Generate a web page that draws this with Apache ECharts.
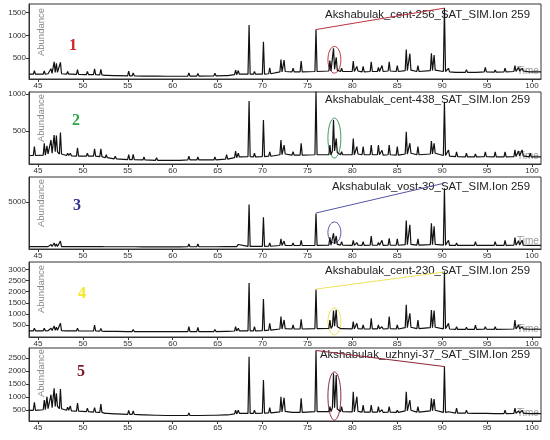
<!DOCTYPE html>
<html>
<head>
<meta charset="utf-8">
<script src="https://cdn.jsdelivr.net/npm/echarts@6.0.0/dist/echarts.min.js"></script>
<style>
  html, body { margin: 0; padding: 0; background: #fff; }
  #chart { width: 550px; height: 440px; }
</style>
</head>
<body>
<div id="chart"></div>
<script>
// retention times of the peaks (min), shared by the five samples
var rt = [
  44.6, 45.7, 46.0, 46.45, 46.8, 47.05, 47.5, 48.3, 48.6, 49.4,
  50.5, 51.3, 52.0, 52.6, 53.6, 55.1, 55.6, 56.8, 58.2, 59.4,
  60.7, 61.8, 62.8, 64.7, 66.0, 67.0, 67.3, 68.5, 69.1, 70.1,
  70.8, 72.05, 72.4, 73.4, 74.3, 75.95, 77.5, 77.9, 78.2, 78.8,
  80.1, 80.5, 81.2, 82.1, 82.9, 83.3, 84.1, 85.0, 86.0, 86.4,
  87.3, 88.8, 89.1, 90.25, 90.7, 91.6, 92.7, 93.7, 94.8, 95.9,
  97.0, 98.1, 98.5, 98.9, 99.8
];

// sample 1: cent-256  (apex / foot abundance)
var h1 = [
  230, 220, 180, 270, 420, 390, 410, 210, 170, 250,
  210, 270, 255, 150, 140, 220, 180, 150, 125, 120,
  120, 180, 165, 170, 160, 240, 230, 1230, 210, 860,
  290, 470, 460, 280, 440, 1130, 450, 720, 520, 280,
  440, 320, 320, 420, 300, 340, 420, 340, 690, 600,
  340, 610, 570, 1600, 280, 220, 250, 220, 300, 240,
  280, 340, 300, 280, 230
];
var b1 = [
  150, 150, 160, 170, 190, 190, 160, 150, 150, 145,
  140, 140, 135, 125, 120, 115, 115, 110, 110, 105,
  105, 110, 110, 115, 120, 140, 150, 150, 150, 150,
  160, 200, 210, 200, 200, 210, 220, 260, 240, 210,
  210, 220, 200, 210, 210, 210, 220, 210, 230, 240,
  210, 230, 240, 210, 200, 190, 190, 190, 200, 195,
  200, 210, 220, 220, 200
];

// sample 2: cent-438
var h2 = [
  290, 335, 300, 380, 445, 440, 480, 200, 200, 275,
  200, 260, 260, 180, 160, 180, 185, 150, 140, 130,
  125, 160, 150, 150, 180, 230, 200, 905, 200, 650,
  220, 380, 310, 220, 335, 1040, 310, 650, 400, 220,
  400, 290, 290, 310, 310, 240, 310, 290, 490, 335,
  290, 365, 335, 895, 245, 220, 200, 190, 220, 220,
  220, 245, 230, 245, 200
];
var b2 = [
  170, 175, 190, 200, 220, 220, 190, 170, 165, 160,
  160, 160, 155, 140, 125, 115, 115, 110, 105, 105,
  105, 110, 110, 110, 120, 140, 150, 155, 150, 155,
  160, 180, 190, 175, 175, 180, 180, 230, 210, 180,
  180, 190, 180, 180, 180, 175, 180, 175, 190, 200,
  180, 190, 200, 170, 160, 155, 150, 150, 155, 150,
  150, 155, 165, 165, 150
];

// sample 3: vost-39
var h3 = [
  200, 334, 250, 395, 550, 450, 765, 200, 180, 240,
  200, 334, 270, 180, 170, 240, 240, 170, 160, 160,
  160, 457, 457, 240, 220, 334, 395, 4750, 395, 3370,
  550, 1010, 765, 550, 855, 3770, 1160, 1620, 1320, 700,
  855, 600, 700, 1320, 600, 855, 1070, 1010, 3000, 2540,
  1010, 2700, 2390, 6530, 855, 550, 500, 700, 500, 700,
  855, 1160, 800, 855, 450
];
var b3 = [
  150, 150, 160, 170, 180, 180, 160, 150, 150, 150,
  150, 150, 150, 145, 145, 145, 145, 140, 140, 140,
  140, 145, 145, 145, 150, 170, 180, 180, 180, 190,
  200, 280, 300, 280, 280, 300, 320, 450, 400, 320,
  300, 320, 300, 320, 310, 300, 320, 310, 380, 400,
  320, 380, 400, 320, 300, 290, 290, 290, 300, 290,
  300, 310, 330, 330, 300
];

// sample 4: cent-230
var h4 = [
  350, 350, 300, 350, 455, 400, 576, 260, 250, 350,
  260, 500, 350, 230, 220, 273, 300, 220, 215, 210,
  210, 425, 395, 300, 260, 425, 350, 2395, 425, 1668,
  576, 878, 727, 500, 757, 2100, 727, 1150, 1180, 425,
  650, 576, 500, 800, 500, 425, 878, 500, 1410, 1030,
  727, 1180, 1150, 2925, 575, 425, 400, 500, 420, 425,
  350, 727, 500, 425, 350
];
var b4 = [
  240, 240, 245, 250, 260, 260, 245, 240, 235, 235,
  230, 230, 225, 215, 210, 205, 205, 200, 200, 200,
  200, 205, 205, 205, 210, 230, 240, 240, 240, 250,
  270, 320, 340, 320, 320, 340, 350, 450, 420, 340,
  330, 340, 320, 330, 330, 320, 340, 320, 380, 400,
  340, 380, 400, 330, 320, 300, 300, 300, 310, 300,
  310, 320, 330, 330, 310
];

// sample 5: uzhnyi-37
var h5 = [
  808, 896, 1023, 1100, 1350, 1150, 1320, 620, 670, 780,
  580, 600, 740, 400, 380, 500, 480, 320, 300, 290,
  290, 400, 320, 380, 380, 500, 500, 2560, 500, 1665,
  600, 1023, 985, 445, 960, 2800, 640, 1920, 1855, 640,
  1215, 1023, 700, 700, 640, 520, 640, 500, 1215, 895,
  640, 960, 930, 2177, 445, 580, 500, 450, 445, 420,
  500, 580, 480, 500, 400
];
var b5 = [
  500, 520, 560, 600, 650, 650, 560, 500, 480, 470,
  450, 430, 420, 380, 360, 340, 340, 320, 310, 300,
  300, 300, 300, 310, 320, 360, 380, 380, 380, 390,
  400, 440, 460, 420, 420, 450, 450, 600, 550, 450,
  440, 460, 430, 430, 430, 420, 430, 420, 480, 500,
  430, 480, 500, 420, 400, 390, 390, 380, 380, 370,
  370, 380, 390, 390, 370
];

var sampleNames = [
  "Akshabulak_cent-256_SAT_SIM.Ion 259",
  "Akshabulak_cent-438_SAT_SIM.Ion 259",
  "Akshabulak_vost-39_SAT_SIM.Ion 259",
  "Akshabulak_cent-230_SAT_SIM.Ion 259",
  "Akshabulak_uzhnyi-37_SAT_SIM.Ion 259"
];
var sampleNums = ["1", "2", "3", "4", "5"];
var xTicks = [45, 50, 55, 60, 65, 70, 75, 80, 85, 90, 95, 100];
var yTicks = [
  [500, 1000, 1500],
  [500, 1000],
  [5000],
  [500, 1000, 1500, 2000, 2500, 3000],
  [500, 1000, 1500, 2000, 2500]
];
// link line between the 76 and 90 min peaks  [t0, v0, t1, v1]
var links = [
  [75.95, 1130, 90.25, 1600],
  null,
  [75.95, 3830, 90.25, 7090],
  [75.95, 2120, 90.25, 2890],
  [75.95, 2800, 90.3, 2180]
];
// ellipse round the 78 min cluster
var ringTime = 78.0;
var ringLo = [175, 135, 550, 60, 120];
var ringHi = [760, 675, 2850, 1270, 1975];

var highs = [h1, h2, h3, h4, h5];
var bases = [b1, b2, b3, b4, b5];

// layout
var tops = [4, 92, 177, 262, 348];
var heights = [75, 72, 72, 75, 73];
var yMin = [45, 55, -100, -40, 88];
var yMax = [1690, 1027, 7760, 3340, 2896];
var numColors = ["#d2232a", "#2ea84a", "#2e3192", "#f5e61e", "#7a1a25"];
var markColors = ["#b8333f", "#3f9a5f", "#5555a5", "#ece25a", "#8a2334"];
var numPos = [[73, 46], [76, 121], [77, 206], [82, 294], [81, 372]];
var titleY = [15, 100, 187, 271, 355];
var abundY = [32, 118, 203, 289, 373];

function trace(h, b) {
  var pts = [[44, b[0]]];
  rt.forEach(function(t, i) {
    pts.push([t - 0.12, b[i]], [t, h[i]], [t + 0.12, b[i]]);
  });
  pts.push([101, b[b.length - 1]]);
  return pts;
}

var chart = echarts.init(document.getElementById("chart"));
var font = "Liberation Sans";
var grids = [], xAxes = [], yAxes = [], series = [];
var plain = function(v) { return String(v); };

for (var i = 0; i < 5; i++) {
  grids.push({
    left: 29, right: 9, top: tops[i], height: heights[i],
    show: true, borderColor: "#333", borderWidth: 1
  });
  xAxes.push({
    type: "value", gridIndex: i, min: 44, max: 101,
    axisLine: { show: true, onZero: false, lineStyle: { color: "#333" } },
    axisTick: { show: true, length: 3, customValues: xTicks, lineStyle: { color: "#333" } },
    axisLabel: { customValues: xTicks, fontSize: 8, color: "#333", margin: 3, fontFamily: font, formatter: plain },
    splitLine: { show: false }
  });
  yAxes.push({
    type: "value", gridIndex: i, min: yMin[i], max: yMax[i],
    axisLine: { show: true, onZero: false, lineStyle: { color: "#333" } },
    axisTick: { show: true, length: 3, customValues: yTicks[i], lineStyle: { color: "#333" } },
    axisLabel: { customValues: yTicks[i], fontSize: 8, color: "#333", margin: 3, fontFamily: font, formatter: plain },
    splitLine: { show: false }
  });
  var s = {
    type: "line", xAxisIndex: i, yAxisIndex: i,
    data: trace(highs[i], bases[i]),
    symbol: "none", showSymbol: false,
    lineStyle: { color: "#111", width: 1.2 },
    silent: true
  };
  if (links[i]) {
    var l = links[i];
    s.markLine = {
      silent: true, symbol: ["none", "none"],
      lineStyle: { color: markColors[i], type: "solid", width: 1 },
      label: { show: false },
      data: [[{ coord: [l[0], l[1]] }, { coord: [l[2], l[3]] }]]
    };
  }
  series.push(s);
}

chart.setOption({
  animation: false,
  grid: grids,
  xAxis: xAxes,
  yAxis: yAxes,
  series: series
});

// texts and rings
var elements = [];
for (var j = 0; j < 5; j++) {
  elements.push({
    type: "text", x: 530, y: titleY[j],
    style: { text: sampleNames[j], align: "right", verticalAlign: "middle",
      fontSize: 11.4, fontFamily: font, fill: "#222" }
  });
  elements.push({
    type: "text", x: numPos[j][0], y: numPos[j][1],
    style: { text: sampleNums[j], align: "center", verticalAlign: "middle",
      fontSize: 16, fontWeight: "bold", fontFamily: "Liberation Serif", fill: numColors[j] }
  });
  elements.push({
    type: "text", x: 41, y: abundY[j], rotation: Math.PI / 2,
    style: { text: "Abundance", align: "center", verticalAlign: "middle",
      fontSize: 9.5, fontFamily: font, fill: "#888" }
  });
  elements.push({
    type: "text", x: 517, y: tops[j] + heights[j] - 8,
    style: { text: "Time", align: "left", verticalAlign: "middle",
      fontSize: 10, fontFamily: font, fill: "#999" }
  });
  var pLo = chart.convertToPixel({ gridIndex: j }, [ringTime, ringLo[j]]);
  var pHi = chart.convertToPixel({ gridIndex: j }, [ringTime, ringHi[j]]);
  var pSide = chart.convertToPixel({ gridIndex: j }, [ringTime + 0.72, ringLo[j]]);
  elements.push({
    type: "ellipse",
    shape: { cx: pLo[0], cy: (pLo[1] + pHi[1]) / 2, rx: pSide[0] - pLo[0], ry: (pLo[1] - pHi[1]) / 2 },
    style: { fill: "none", stroke: markColors[j], lineWidth: 1 },
    silent: true
  });
}
chart.setOption({ graphic: { elements: elements } });

window.addEventListener("resize", chart.resize);
</script>
</body>
</html>
